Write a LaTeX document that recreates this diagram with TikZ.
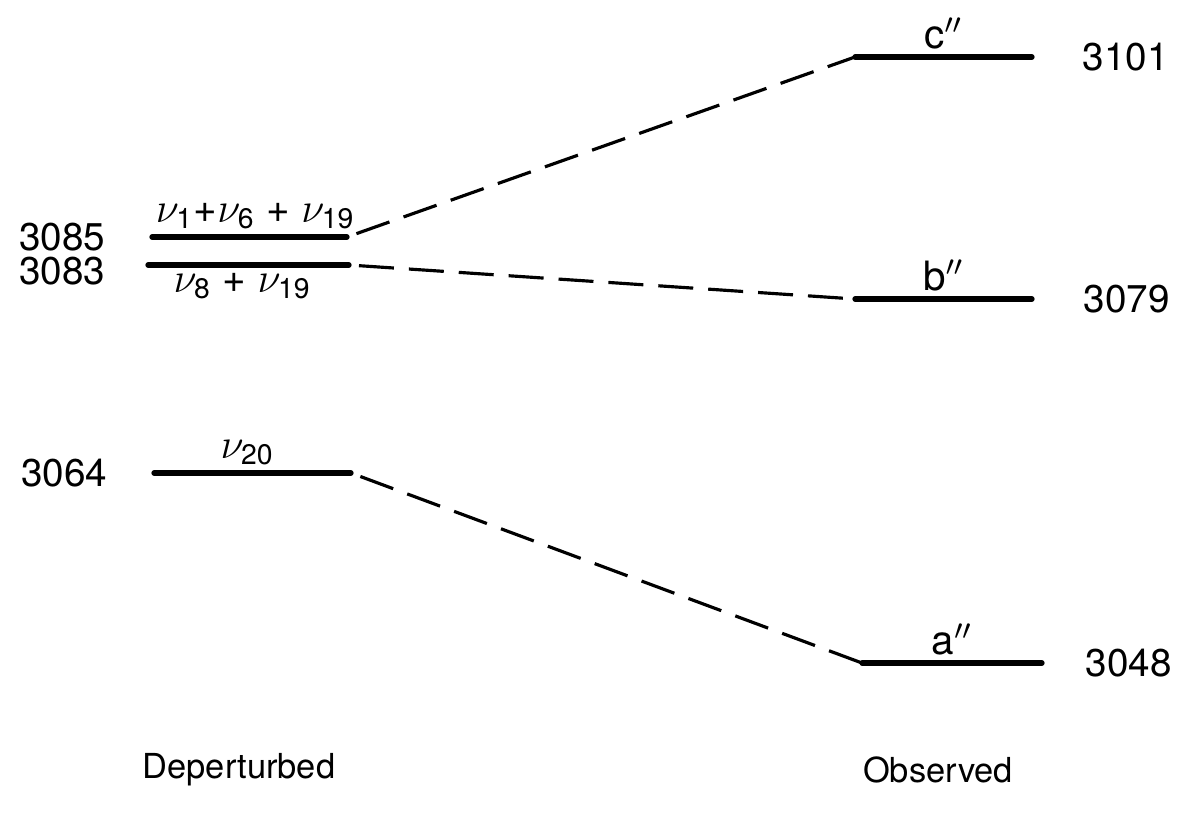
\documentclass[tikz,border=0pt]{standalone}
\usepackage{amsmath}
\usepackage{fontspec}
\setmainfont{TeX Gyre Heros}
\usepackage{tikz}
\usetikzlibrary{positioning}

\tikzset{
    level/.style={line width=1.5pt, line cap=round},
    link/.style={line width=0.9pt, dash pattern=on 0.35cm off 0.15cm, shorten <=1mm},
    num/.style={inner sep=0pt, font=\fontsize{11}{12}\selectfont},
    lab/.style={inner sep=1.5pt, font=\fontsize{11.5}{13}\selectfont},
    side/.style={inner sep=0pt, font=\fontsize{9.8}{11}\selectfont}
}
\newcommand{\nus}[1]{\nu_{\text{#1}}}

\begin{document}
\begin{tikzpicture}
    \useasboundingbox (0,0) rectangle (11.86,8.16);
    % deperturbed levels
    \coordinate (d85a) at (1.52,5.79);
    \coordinate (d85b) at (3.47,5.79);
    \coordinate (d83a) at (1.48,5.51);
    \coordinate (d83b) at (3.49,5.51);
    \coordinate (d64a) at (1.54,3.43);
    \coordinate (d64b) at (3.51,3.43);
    % observed levels
    \coordinate (oca) at (8.55,7.59);
    \coordinate (ocb) at (10.32,7.59);
    \coordinate (oba) at (8.55,5.17);
    \coordinate (obb) at (10.32,5.17);
    \coordinate (oaa) at (8.62,1.53);
    \coordinate (oab) at (10.42,1.53);

    \draw[level] (d85a) -- (d85b) node[midway, above, lab, xshift=0.06cm] (l85) {$\nus{1}$+$\nus{6}$ + $\nus{19}$};
    \draw[level] (d83a) -- (d83b) node[midway, below, lab, xshift=-0.06cm] (l83) {$\nus{8}$ + $\nus{19}$};
    \draw[level] (d64a) -- (d64b) node[midway, above, lab, xshift=-0.05cm] (l64) {$\nus{20}$};
    \draw[level] (oca) -- (ocb) node[midway, above, lab] (lc) {c$^{\prime\prime}$};
    \draw[level] (oba) -- (obb) node[midway, above, lab] (lb) {b$^{\prime\prime}$};
    \draw[level] (oaa) -- (oab) node[midway, above, lab] (la) {a$^{\prime\prime}$};

    % numbers
    \node[num, left=0.46cm of d85a] (n3085) {3085};
    \node[num, left=0.42cm of d83a, yshift=-0.06cm] (n3083) {3083};
    \node[num, left=0.46cm of d64a] (n3064) {3064};
    \node[num, right=0.50cm of ocb] (n3101) {3101};
    \node[num, right=0.51cm of obb] (n3079) {3079};
    \node[num, right=0.43cm of oab] (n3048) {3048};

    % correlation lines
    \draw[link] (d85b) -- (oca);
    \draw[link] (d83b) -- (oba);
    \draw[link] (d64b) -- (oaa);

    \node[side] (dep) at (2.39,0.46) {Deperturbed};
    \node[side] (obs) at (9.38,0.46) {Observed};
\end{tikzpicture}
\end{document}
